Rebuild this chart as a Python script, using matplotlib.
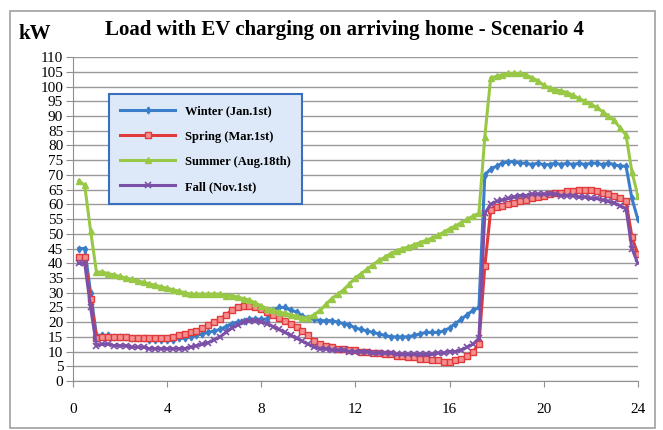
import numpy as np
import matplotlib
matplotlib.use("Agg")
from matplotlib import pyplot as plt
from matplotlib.patches import Rectangle

# 15-minute steps, 0.25 .. 24.0
hours = np.arange(1, 97) * 0.25

winter = [45, 45, 30, 15.5,  15.5, 15.5, 15, 15,  15, 14.5, 14.5, 14.5,  14, 14, 14, 14,
          14, 14.5, 14.5, 15,  15.5, 16, 16.5, 17,  17.5, 18.5, 19.5, 20,  20.5, 21, 21, 21,
          21, 24, 25, 25,  24, 23.5, 22, 21.5,  21, 20.5, 20.5, 20.5,  20, 19.5, 19, 18,
          17.5, 17, 16.5, 16,  15.5, 15, 15, 15,  15, 15.5, 16, 16.5,  16.5, 16.5, 17, 18,
          19.5, 21, 22.5, 24,  25, 70, 72, 73,  74, 74.5, 74.5, 74,  74, 73.5, 74, 73.5,
          73.5, 74, 73.5, 74,  73.5, 74, 73.5, 74,  74, 73.5, 74, 73.5,  73, 73, 62, 55]

spring = [42, 42, 28, 14.5,  15, 15, 15, 15,  15, 14.5, 14.5, 14.5,  14.5, 14.5, 14.5, 14.5,
          15, 15.5, 16, 16.5,  17, 18, 19, 20,  21, 22.5, 24, 25,  25.5, 25.5, 25, 24.5,
          23.5, 22.5, 21.5, 20.5,  19.5, 18.5, 17, 15.5,  13.5, 12.5, 12, 11.5,  11, 11, 10.5, 10.5,
          10, 10, 9.5, 9.5,  9, 9, 8.5, 8.5,  8, 8, 7.5, 7.5,  7, 7, 6.5, 6.5,
          7, 7.5, 8.5, 10,  12.5, 39, 58, 59,  59.5, 60, 60.5, 61,  61.5, 62, 62.5, 63,
          63.5, 64, 64, 64.5,  64.5, 65, 65, 65,  64.5, 64, 63.5, 63,  62, 61, 49, 43]

summer = [68, 66.5, 51, 37,  37, 36.5, 36, 35.5,  35, 34.5, 34, 33.5,  33, 32.5, 32, 31.5,
          31, 30.5, 30, 29.5,  29.5, 29.5, 29.5, 29.5,  29.5, 29, 29, 28.5,  28, 27.5, 26.5, 25.5,
          24.5, 24, 23.5, 23,  22.5, 22, 21.5, 21.5,  22.5, 24, 26, 28,  29.5, 31, 33, 35,
          36.5, 38, 39.5, 41,  42, 43.3, 44.2, 45,  45.5, 46.3, 47, 47.8,  48.5, 49.5, 50.5, 51.7,
          52.7, 53.8, 55, 56,  57, 83, 103, 103.5,  104, 104.5, 104.5, 104.5,  104, 103, 102, 100.5,
          99.5, 99, 98.5, 98,  97, 96, 95, 94,  93, 91.5, 90, 88.5,  86, 83.5, 71, 63]

fall = [40, 40, 25, 12,  12.5, 12.5, 12, 12,  12, 11.5, 11.5, 11.5,  11, 11, 11, 11,
        11, 11, 11, 11.5,  12, 12.5, 13, 14,  15, 16.5, 18, 19,  20, 20.5, 20.5, 20,
        19.5, 18.5, 17.5, 16.5,  15.5, 14.5, 13.5, 12.5,  11.5, 11, 11, 10.5,  10.5, 10.5, 10, 10,
        10, 10, 9.5, 9.5,  9.5, 9.5, 9, 9,  9, 9, 9, 9,  9, 9.5, 9.5, 10,
        10, 10.5, 11.5, 12.5,  14.5, 57, 60, 61,  61.5, 62, 62.5, 63,  63, 63.5, 63.5, 63.5,
        63.5, 63.5, 63, 63,  63, 62.5, 62.5, 62,  62, 61.5, 61, 60.5,  59.5, 58.5, 45, 40]

labels = ['Winter (Jan.1st)', 'Spring (Mar.1st)', 'Summer (Aug.18th)', 'Fall (Nov.1st)']

plt.rcParams['font.family'] = ['Liberation Serif', 'DejaVu Serif']

fig = plt.figure(figsize=(6.63, 4.30), dpi=100)
ax = fig.add_axes([0.110, 0.114, 0.852, 0.753])

ax.plot(hours, winter, color='#3a7dc9', lw=2.2, marker='d', ms=3.5, label=labels[0])
ax.plot(hours, spring, color='#e03a3a', lw=2.2, marker='s', ms=4.5, mfc='#f59090', mec='#e03a3a',
        mew=1, label=labels[1])
ax.plot(hours, summer, color='#98c846', lw=2.2, marker='^', ms=4.5, label=labels[2])
ax.plot(hours, fall, color='#7d50a8', lw=2.2, marker='x', ms=4, mew=1.2, label=labels[3])

ax.set_xlim(0, 24)
ax.set_ylim(0, 110)
ax.set_xticks(range(0, 25, 4))
ax.set_yticks(range(0, 111, 5))
ax.yaxis.grid(True, color='#999999', lw=1)
ax.set_axisbelow(True)
for s in ['top', 'right']:
    ax.spines[s].set_visible(False)
ax.spines['left'].set_color('#909090')
ax.spines['bottom'].set_color('#909090')
ax.tick_params(axis='y', labelsize=11, length=5, color='#909090', pad=2)
ax.tick_params(axis='x', labelsize=11, length=4, color='#909090', pad=12)

leg = ax.legend(loc='upper left', bbox_to_anchor=(0.053, 0.905),
                handlelength=4.4, labelspacing=1.05, borderpad=0.9, fancybox=False,
                framealpha=1, prop={'weight': 'bold', 'size': 9})
leg.get_frame().set_edgecolor('#3a6fc0')
leg.get_frame().set_facecolor('#dde9f8')
leg.get_frame().set_linewidth(1.5)

fig.text(0.52, 0.93, 'Load with EV charging on arriving home - Scenario 4',
         ha='center', va='center', fontsize=15, fontweight='bold')
fig.text(0.052, 0.922, 'kW', ha='center', va='center', fontsize=15, fontweight='bold')

fig.patches.append(Rectangle((0.015, 0.005), 0.973, 0.97, transform=fig.transFigure,
                             fill=False, edgecolor='#a0a0a0', lw=1.2))

fig.savefig('out.png', dpi=100)
